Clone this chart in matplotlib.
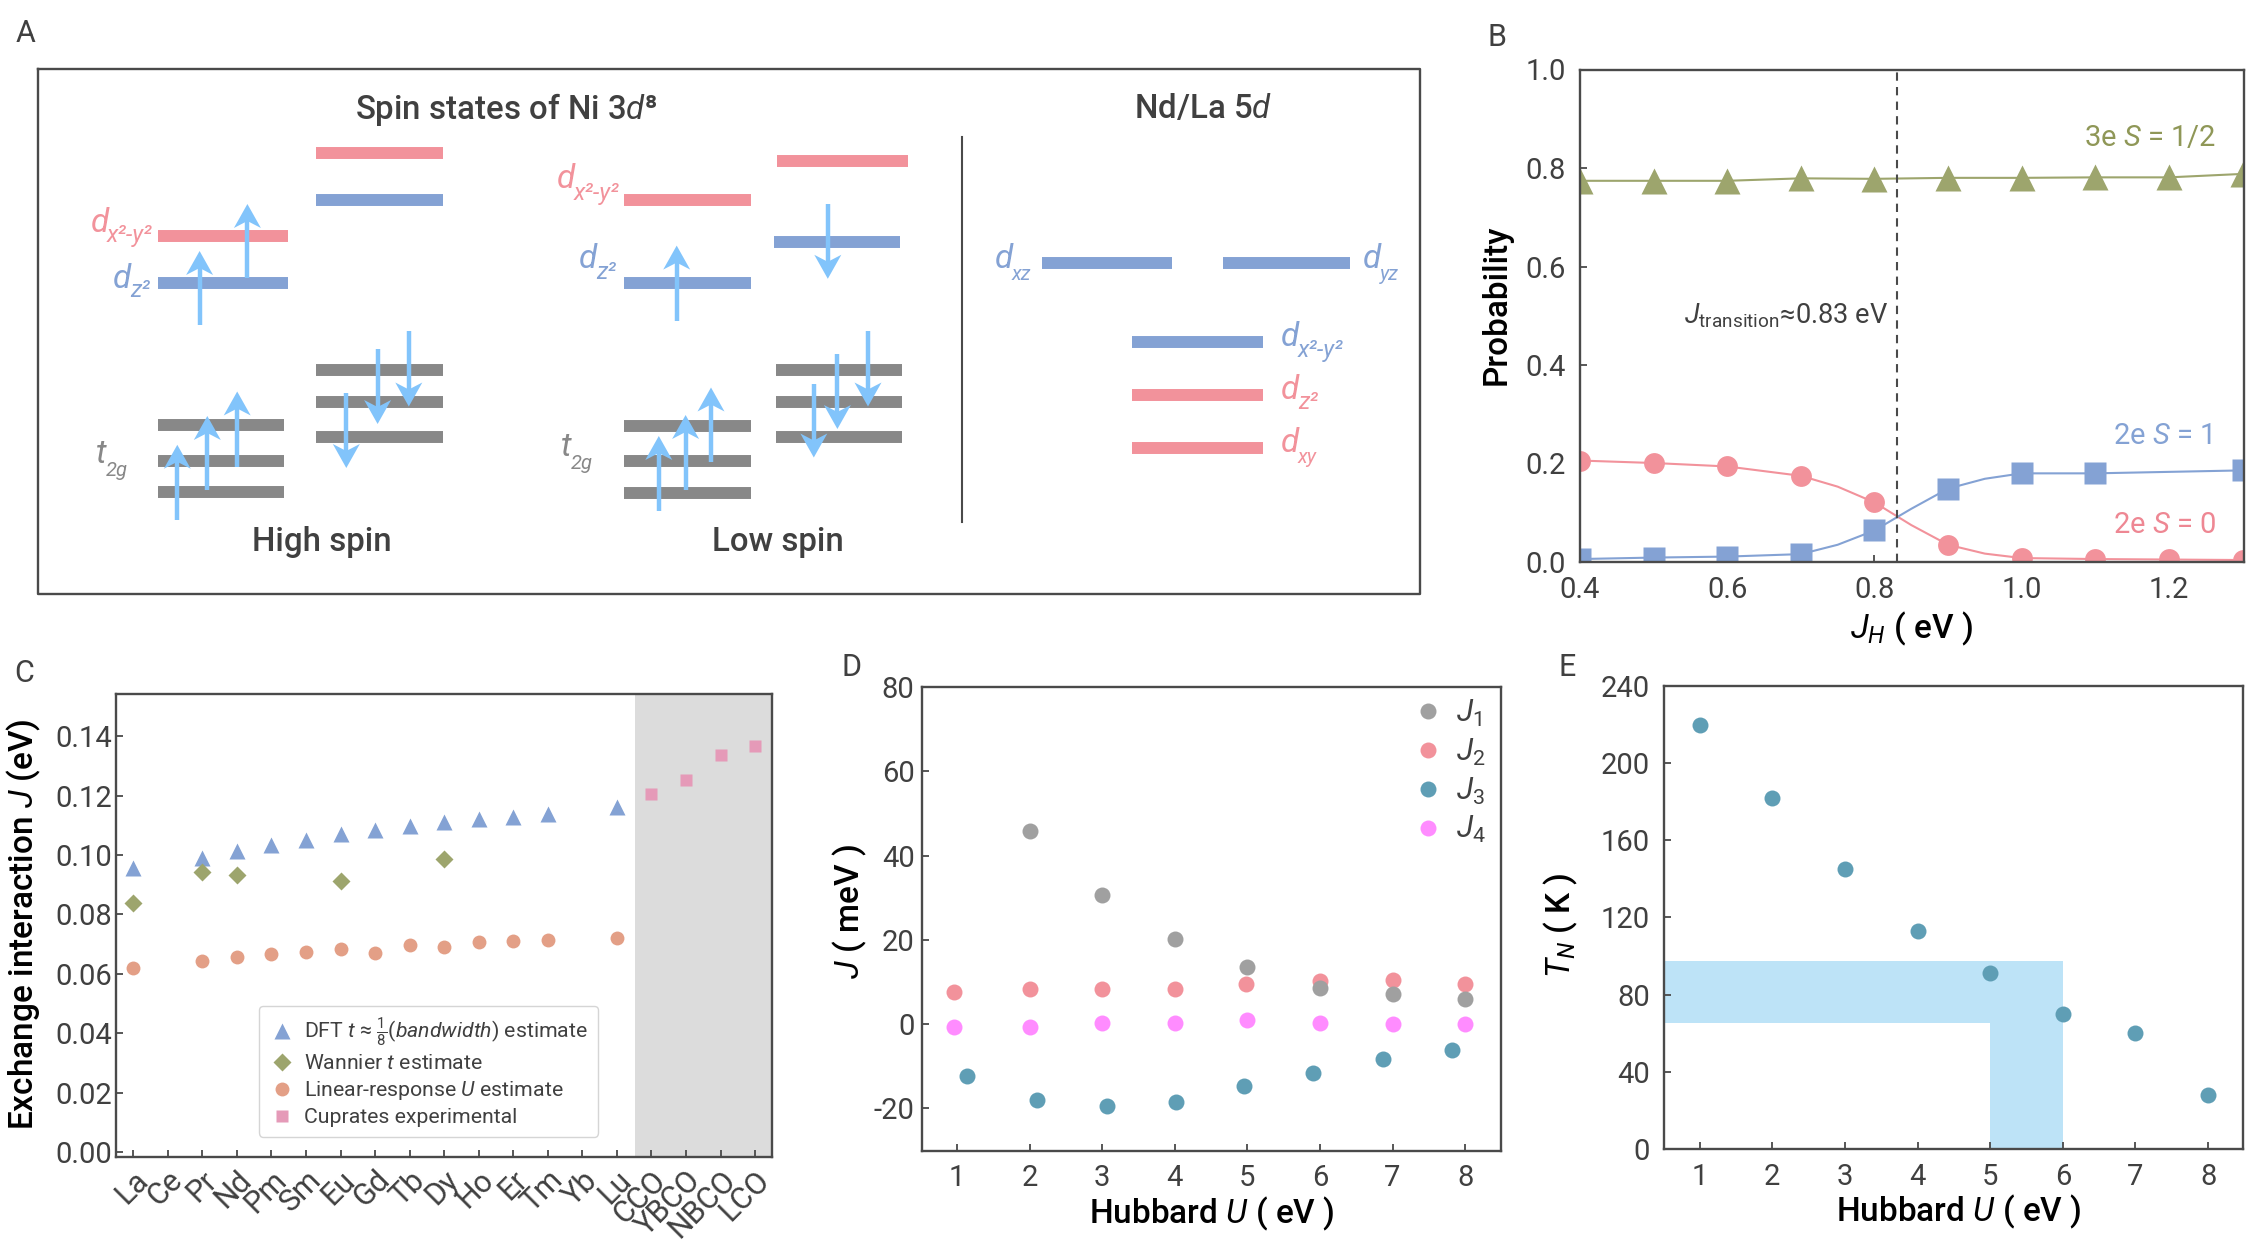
import matplotlib
matplotlib.use("Agg")
import matplotlib.pyplot as plt
from matplotlib.transforms import ScaledTranslation

W, H = 2254, 1241

plt.rcParams['font.family'] = ['Roboto', 'DejaVu Sans']
plt.rcParams['mathtext.fontset'] = 'custom'
plt.rcParams['mathtext.rm'] = 'Roboto'
plt.rcParams['mathtext.it'] = 'Roboto:italic'
plt.rcParams['mathtext.bf'] = 'Roboto:bold'
plt.rcParams['mathtext.default'] = 'regular'
plt.rcParams['axes.unicode_minus'] = False
plt.rcParams['text.color'] = '#404040'
plt.rcParams['axes.edgecolor'] = '#4a4a4a'
plt.rcParams['xtick.color'] = '#4a4a4a'
plt.rcParams['ytick.color'] = '#4a4a4a'
plt.rcParams['xtick.labelcolor'] = '#404040'
plt.rcParams['ytick.labelcolor'] = '#404040'

PINK = '#f2929b'
BLUE = '#84a2d4'
OLIVE = '#9da56d'
GRAY = '#888888'
ARROW = '#82c4fb'
TEAL = '#5f9eb5'

# panel B
jh = [0.4, 0.5, 0.6, 0.7, 0.8, 0.9, 1.0, 1.1, 1.2, 1.3]
p_3e = [0.774, 0.774, 0.774, 0.779, 0.778, 0.780, 0.780, 0.781, 0.781, 0.788]
p_s0 = [0.206, 0.201, 0.194, 0.175, 0.121, 0.035, 0.008, 0.006, 0.006, 0.004]
jh_s1 = [0.4, 0.5, 0.6, 0.7, 0.8, 0.9, 1.0, 1.1, 1.3]
p_s1 = [0.006, 0.009, 0.011, 0.016, 0.064, 0.149, 0.180, 0.180, 0.186]
# the curves
curve_x = [0.4, 0.5, 0.6, 0.7, 0.75, 0.8, 0.85, 0.9, 0.95, 1.0, 1.1, 1.3]
curve_s0 = [0.206, 0.201, 0.194, 0.175, 0.153, 0.121, 0.075, 0.035, 0.017, 0.008, 0.006, 0.004]
curve_s1 = [0.006, 0.009, 0.011, 0.016, 0.035, 0.064, 0.108, 0.149, 0.169, 0.180, 0.180, 0.186]

# panel C
elements = ['La', 'Ce', 'Pr', 'Nd', 'Pm', 'Sm', 'Eu', 'Gd', 'Tb', 'Dy', 'Ho', 'Er', 'Tm', 'Yb', 'Lu',
            'CCO', 'YBCO', 'NBCO', 'LCO']
dft_idx = [0, 2, 3, 4, 5, 6, 7, 8, 9, 10, 11, 12, 14]
dft_j = [0.0957, 0.0989, 0.1014, 0.1034, 0.1051, 0.1069, 0.1085, 0.1096, 0.1111, 0.1122, 0.1129, 0.1139, 0.1162]
wannier_idx = [0, 2, 3, 6, 9]
wannier_j = [0.0839, 0.0942, 0.0932, 0.0911, 0.0988]
lr_j = [0.0618, 0.0644, 0.0657, 0.0666, 0.0674, 0.0684, 0.0671, 0.0696, 0.0690, 0.0708, 0.0711, 0.0715, 0.0721]
cuprate_idx = [15, 16, 17, 18]
cuprate_j = [0.1205, 0.1251, 0.1335, 0.1367]

# panel D
u1 = [2, 3, 4, 5, 6, 7, 8]
j1 = [45.8, 30.6, 20.2, 13.6, 8.55, 7.1, 6.0]
u2 = [0.96, 2, 3, 4, 4.98, 6, 7, 8]
j2 = [7.7, 8.4, 8.4, 8.4, 9.55, 10.3, 10.5, 9.55]
u3 = [1.14, 2.10, 3.06, 4.01, 4.96, 5.90, 6.87, 7.82]
j3 = [-12.4, -17.9, -19.5, -18.4, -14.7, -11.6, -8.4, -6.1]
u4 = [0.96, 2, 3, 4, 5, 6, 7, 8]
j4 = [-0.64, -0.64, 0.36, 0.36, 0.9, 0.36, 0.0, 0.0]

# panel E
u_tn = [1, 2, 3, 4, 5, 6, 7, 8]
tn = [219.8, 182, 144.9, 113, 91, 69.7, 60, 28.2]
band_u = [5, 6]
band_tn = [65.5, 97.3]

# panel A schematic, in picture pixels: x0, x1, y
pink_levels = [(316, 443, 152.6), (158, 288, 235.7), (777, 908, 160.5), (624, 751, 200),
               (1132, 1263, 395), (1132, 1263, 448.4)]
blue_levels = [(316, 443, 200), (158, 288, 283), (774, 900, 242.4), (624, 751, 283),
               (1042, 1172, 263.3), (1223, 1350, 263.3), (1132, 1263, 342)]
gray_levels = [(158, 284, 424.7), (158, 284, 460.6), (158, 284, 491.9),
               (316, 443, 369.7), (316, 443, 401.7), (316, 443, 437),
               (624, 751, 425.5), (624, 751, 460.6), (624, 751, 492.7),
               (776, 902, 370), (776, 902, 401.7), (776, 902, 437.3)]
# x, tail, head
spin_arrows = [(199.6, 325.4, 251), (247.4, 278.4, 204), (177.3, 519.6, 444.8), (207.3, 490.3, 416),
               (237.2, 466.6, 391.5), (408.8, 331.4, 406.5), (377.6, 349, 424), (346.3, 393.4, 468),
               (676.7, 320.7, 245.6), (658.8, 510.9, 436), (685.6, 490.3, 415), (711, 461.8, 387.5),
               (827.8, 204, 278.8), (868, 331.4, 406.5), (837.4, 354, 429), (813.8, 383.6, 457.5)]
# letter, subscript, colour, letter x, letter y, sub x, sub y
orbitals = [('d', 'x²-y²', PINK, 90.6, 231.7, 107, 242), ('d', 'z²', BLUE, 113, 287.5, 130.7, 297),
            ('t', '2g', GRAY, 95.7, 463, 106, 476.5), ('d', 'x²-y²', PINK, 556.8, 187.8, 574, 199.7),
            ('d', 'z²', BLUE, 578.4, 268, 596, 278.8), ('t', '2g', GRAY, 561, 455.5, 570.8, 468.6),
            ('d', 'xz', BLUE, 994.5, 268, 1012, 279.6), ('d', 'yz', BLUE, 1363, 268, 1380, 279.6),
            ('d', 'x²-y²', BLUE, 1280.8, 346, 1298, 356.7), ('d', 'z²', PINK, 1280.8, 398.6, 1298, 409),
            ('d', 'xy', PINK, 1280.8, 452, 1298, 463)]

fig = plt.figure(figsize=(W / 100, H / 100), dpi=100)

# full figure layer in pixel coordinates
bg = fig.add_axes([0, 0, 1, 1], zorder=0)
bg.set_xlim(0, W)
bg.set_ylim(H, 0)
bg.axis('off')


def make_axes(x0, y0, x1, y1, pad=10):
    ax = fig.add_axes([x0 / W, 1 - y1 / H, (x1 - x0) / W, (y1 - y0) / H], zorder=1)
    for s in ax.spines.values():
        s.set_linewidth(1.7)
    ax.tick_params(direction='in', length=5, width=1.3, labelsize=21, pad=pad)
    return ax


def x_label(ax, text, x, y):
    ax.set_xlabel(text, fontsize=24, fontweight='medium', va='center', ha='center')
    ax.xaxis.set_label_coords(x, y, transform=bg.transData)


def y_label(ax, text, x, y):
    ax.set_ylabel(text, fontsize=24, fontweight='medium', va='center', ha='center')
    ax.yaxis.set_label_coords(x, y, transform=bg.transData)


# panel A
bg.plot([38, 1420, 1420, 38, 38], [69, 69, 594, 594, 69], color='#4a4a4a', lw=1.7)
bg.plot([962.4, 962.4], [137, 522], color='#4a4a4a', lw=1.5)
for levels, c in [(pink_levels, PINK), (blue_levels, BLUE), (gray_levels, GRAY)]:
    for x0, x1, y in levels:
        bg.plot([x0, x1], [y, y], color=c, lw=8.6, solid_capstyle='butt', zorder=2)
for x, tail, head in spin_arrows:
    d = 1 if head > tail else -1
    bg.plot([x, x], [tail, head - d * 16], color=ARROW, lw=3.2, solid_capstyle='butt', zorder=3)
    bg.fill([x, x - 13.5, x, x + 13.5], [head, head - d * 24, head - d * 17, head - d * 24],
            color=ARROW, lw=0, zorder=3)
for letter, sub, c, lx, ly, sx, sy in orbitals:
    bg.text(lx, ly, letter, color=c, fontsize=24, fontstyle='italic', va='baseline')
    bg.text(sx, sy, sub, color=c, fontsize=17 if '²' in sub else 14.5, fontstyle='italic', va='baseline')

bg.text(506, 109.5, 'Spin states of Ni 3$\\mathit{d}$⁸', fontsize=23.8, fontweight='medium',
        ha='center', va='center')
bg.text(1203, 109.5, r'Nd/La 5$\mathit{d}$', fontsize=23.8, fontweight='medium', ha='center', va='center')
bg.text(321.4, 542.5, 'High spin', fontsize=23.8, fontweight='medium', ha='center', va='center')
bg.text(777.7, 542.5, 'Low spin', fontsize=23.8, fontweight='medium', ha='center', va='center')

for letter, x, y in [('A', 26, 33), ('B', 1497, 37), ('C', 24, 673), ('D', 851, 668), ('E', 1567, 668)]:
    bg.text(x, y, letter, fontsize=22, ha='center', va='center')

# panel B
axb = make_axes(1580, 69.5, 2244, 562)
axb.plot(curve_x, curve_s0, color=PINK, lw=1.5)
axb.plot(curve_x, curve_s1, color=BLUE, lw=1.5)
axb.plot(jh, p_3e, color=OLIVE, lw=1.5)
axb.plot(jh, p_3e, ls='none', marker='^', ms=19, color=OLIVE, mec='none')
axb.plot(jh, p_s0, ls='none', marker='o', ms=15, color=PINK, mec='none')
axb.plot(jh_s1, p_s1, ls='none', marker='s', ms=16.5, color=BLUE, mec='none')
axb.axvline(0.83, color='#4a4a4a', lw=1.5, ls=(0, (4, 3)))
axb.set_xlim(0.4, 1.302)
axb.set_ylim(0, 1)
axb.set_xticks([0.4, 0.6, 0.8, 1.0, 1.2])
axb.set_yticks([0, 0.2, 0.4, 0.6, 0.8, 1.0])
x_label(axb, r'$\mathit{J}_{\mathit{H}}$ ( eV )', 1911.5, 629)
y_label(axb, 'Probability', 1497, 305)
axb.text(2084, 138, r'3e $\mathit{S}$ = 1/2', color='#8f9757', fontsize=21, va='center', transform=bg.transData)
axb.text(2113, 435.6, r'2e $\mathit{S}$ = 1', color=BLUE, fontsize=21, va='center', transform=bg.transData)
axb.text(2113, 525, r'2e $\mathit{S}$ = 0', color='#ee8793', fontsize=21, va='center', transform=bg.transData)
axb.text(1684, 324, r'$\mathit{J}_{transition}$≈0.83 eV', fontsize=19.6, va='baseline', transform=bg.transData)

# panel C
axc = make_axes(116, 694, 772, 1157, pad=3)
axc.axvspan(14.53, 18.49, color='#dcdcdc', lw=0)
lr_idx = dft_idx
axc.plot(dft_idx, dft_j, ls='none', marker='^', ms=11, color=BLUE, mec='none',
         label=r'DFT $\mathit{t}$ ≈ $\frac{1}{8}$($\mathit{bandwidth}$) estimate')
axc.plot(wannier_idx, wannier_j, ls='none', marker='D', ms=9.2, color=OLIVE, mec='none',
         label=r'Wannier $\mathit{t}$ estimate')
axc.plot(lr_idx, lr_j, ls='none', marker='o', ms=10, color='#e39f86', mec='none',
         label=r'Linear-response $\mathit{U}$ estimate')
axc.plot(cuprate_idx, cuprate_j, ls='none', marker='s', ms=8, color='#e59ab8', mec='none',
         label='Cuprates experimental')
axc.set_xlim(-0.5, 18.49)
axc.set_ylim(-0.0017, 0.1542)
axc.set_xticks(range(len(elements)))
axc.set_xticklabels(elements, rotation=45, ha='right', rotation_mode='anchor', fontsize=22)
for lab in axc.get_xticklabels():
    lab.set_transform(lab.get_transform() + ScaledTranslation(-4 / 72, 0, fig.dpi_scale_trans))
axc.set_yticks([0, 0.02, 0.04, 0.06, 0.08, 0.10, 0.12, 0.14])
axc.set_yticklabels(['0.00', '0.02', '0.04', '0.06', '0.08', '0.10', '0.12', '0.14'])
axc.tick_params(axis='x', pad=6)
y_label(axc, r'Exchange interaction $\mathit{J}$ (eV)', 24, 924)
axc.legend(loc='upper left', bbox_to_anchor=(258.7, 1006), bbox_transform=bg.transData, borderaxespad=0,
           fontsize=15.3, frameon=True, framealpha=1, edgecolor='#d5d5d5', labelspacing=0.28,
           handletextpad=0.4, handlelength=1.3, borderpad=0.45)

# panel D
axd = make_axes(921.5, 687, 1501, 1150.5, pad=5)
axd.plot(u1, j1, ls='none', marker='o', ms=11.5, color='#a0a0a0', mec='none', zorder=4,
         label=r'$\mathit{J}_{1}$')
axd.plot(u2, j2, ls='none', marker='o', ms=11.5, color=PINK, mec='none', zorder=3,
         label=r'$\mathit{J}_{2}$')
axd.plot(u3, j3, ls='none', marker='o', ms=11.5, color=TEAL, mec='none', label=r'$\mathit{J}_{3}$')
axd.plot(u4, j4, ls='none', marker='o', ms=11.5, color='#ff8cff', mec='none', label=r'$\mathit{J}_{4}$')
axd.set_xlim(0.51, 8.495)
axd.set_ylim(-30, 80)
axd.set_xticks(range(1, 9))
axd.set_yticks([-20, 0, 20, 40, 60, 80])
axd.tick_params(axis='x', pad=10)
x_label(axd, r'Hubbard $\mathit{U}$ ( eV )', 1211.5, 1214)
y_label(axd, r'$\mathit{J}$ ( meV )', 850, 912)
axd.legend(loc='upper left', bbox_to_anchor=(1407, 698), bbox_transform=bg.transData, borderaxespad=0,
           fontsize=22, frameon=False, labelspacing=0.25, handletextpad=0.2, handlelength=1.4, borderpad=0)

# panel E
axe = make_axes(1664, 685.6, 2243, 1149)
axe.set_xlim(0.51, 8.48)
axe.set_ylim(0, 240)
axe.fill_between([0.51, band_u[1]], band_tn[0], band_tn[1], color='#bde3f7', lw=0)
axe.fill_between(band_u, 0, band_tn[0], color='#bde3f7', lw=0)
axe.plot(u_tn, tn, ls='none', marker='o', ms=11.5, color=TEAL, mec='none')
axe.set_xticks(range(1, 9))
axe.set_yticks([0, 40, 80, 120, 160, 200, 240])
x_label(axe, r'Hubbard $\mathit{U}$ ( eV )', 1959, 1212)
y_label(axe, r'$\mathit{T}_{\mathit{N}}$ ( K )', 1561, 925.5)

fig.savefig('out.png', dpi=100)
